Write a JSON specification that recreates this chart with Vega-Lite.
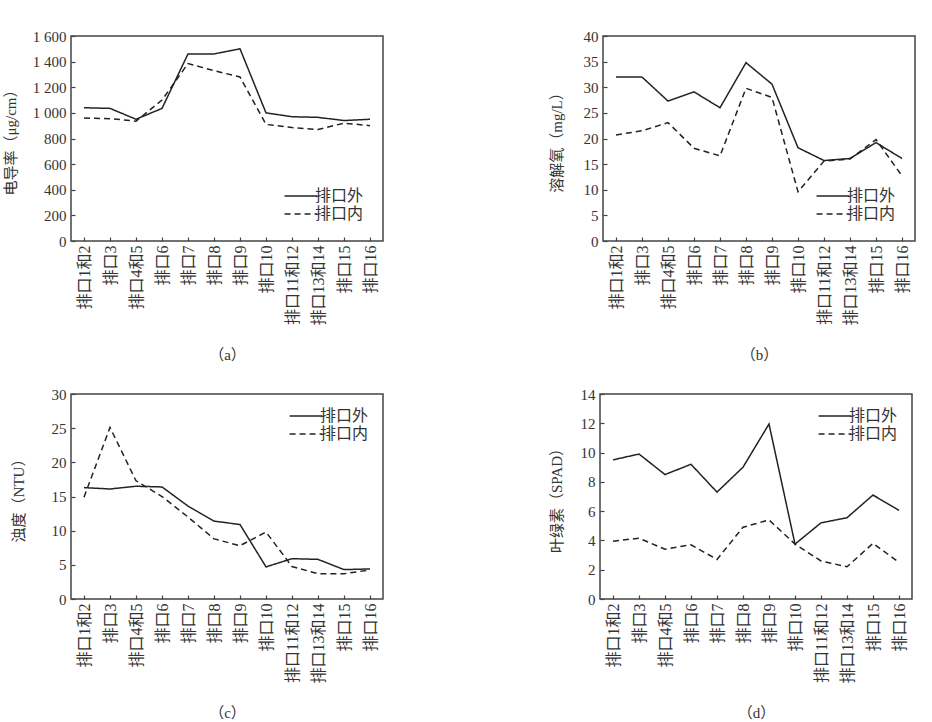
{
  "$schema": "https://vega.github.io/schema/vega-lite/v6.json",
  "padding": {"left": 2, "top": 28, "right": 0, "bottom": 0},
  "background": "white",
  "config": {
    "font": "Liberation Serif, Noto Sans CJK SC",
    "view": {"stroke": "#444", "strokeWidth": 1.5},
    "axis": {
      "grid": false, "domain": false, "tickSize": 4, "offset": -4, "tickColor": "#444", "tickWidth": 1.2,
      "labelFont": "Liberation Serif, Noto Sans CJK SC", "labelFontSize": 15, "labelColor": "#333",
      "titleFont": "Liberation Serif, Noto Sans CJK SC", "titleFontSize": 15, "titleFontWeight": "normal", "titleColor": "#333",
      "labelPadding": 5
    },
    "axisX": {"labelAngle": -90, "labelFontSize": 16, "labelPadding": 4, "titlePadding": 22, "titleFontSize": 15},
    "legend": {
      "title": null, "labelFontSize": 16, "labelColor": "#333", "labelFont": "Liberation Serif, Noto Sans CJK SC",
      "symbolType": "M-3,0H3", "symbolSize": 120, "symbolStrokeWidth": 1.5, "symbolStrokeColor": "#222",
      "symbolFillColor": "transparent", "labelOffset": 6, "rowPadding": 2, "offset": 19, "padding": 0
    }
  },
  "datasets": {
    "a": [
      {"site": "排口1和2", "s": "排口外", "v": 1040}, {"site": "排口3", "s": "排口外", "v": 1035},
      {"site": "排口4和5", "s": "排口外", "v": 950}, {"site": "排口6", "s": "排口外", "v": 1035},
      {"site": "排口7", "s": "排口外", "v": 1460}, {"site": "排口8", "s": "排口外", "v": 1460},
      {"site": "排口9", "s": "排口外", "v": 1500}, {"site": "排口10", "s": "排口外", "v": 1000},
      {"site": "排口11和12", "s": "排口外", "v": 970}, {"site": "排口13和14", "s": "排口外", "v": 965},
      {"site": "排口15", "s": "排口外", "v": 940}, {"site": "排口16", "s": "排口外", "v": 950},
      {"site": "排口1和2", "s": "排口内", "v": 960}, {"site": "排口3", "s": "排口内", "v": 955},
      {"site": "排口4和5", "s": "排口内", "v": 935}, {"site": "排口6", "s": "排口内", "v": 1100},
      {"site": "排口7", "s": "排口内", "v": 1385}, {"site": "排口8", "s": "排口内", "v": 1330},
      {"site": "排口9", "s": "排口内", "v": 1280}, {"site": "排口10", "s": "排口内", "v": 910},
      {"site": "排口11和12", "s": "排口内", "v": 885}, {"site": "排口13和14", "s": "排口内", "v": 870},
      {"site": "排口15", "s": "排口内", "v": 920}, {"site": "排口16", "s": "排口内", "v": 900}
    ],
    "b": [
      {"site": "排口1和2", "s": "排口外", "v": 32.0}, {"site": "排口3", "s": "排口外", "v": 32.0},
      {"site": "排口4和5", "s": "排口外", "v": 27.3}, {"site": "排口6", "s": "排口外", "v": 29.1},
      {"site": "排口7", "s": "排口外", "v": 26.0}, {"site": "排口8", "s": "排口外", "v": 34.8},
      {"site": "排口9", "s": "排口外", "v": 30.6}, {"site": "排口10", "s": "排口外", "v": 18.2},
      {"site": "排口11和12", "s": "排口外", "v": 15.7}, {"site": "排口13和14", "s": "排口外", "v": 16.1},
      {"site": "排口15", "s": "排口外", "v": 19.2}, {"site": "排口16", "s": "排口外", "v": 16.1},
      {"site": "排口1和2", "s": "排口内", "v": 20.7}, {"site": "排口3", "s": "排口内", "v": 21.5},
      {"site": "排口4和5", "s": "排口内", "v": 23.1}, {"site": "排口6", "s": "排口内", "v": 18.1},
      {"site": "排口7", "s": "排口内", "v": 16.6}, {"site": "排口8", "s": "排口内", "v": 29.8},
      {"site": "排口9", "s": "排口内", "v": 28.0}, {"site": "排口10", "s": "排口内", "v": 9.6},
      {"site": "排口11和12", "s": "排口内", "v": 15.6}, {"site": "排口13和14", "s": "排口内", "v": 16.0},
      {"site": "排口15", "s": "排口内", "v": 19.8}, {"site": "排口16", "s": "排口内", "v": 12.7}
    ],
    "c": [
      {"site": "排口1和2", "s": "排口外", "v": 16.3}, {"site": "排口3", "s": "排口外", "v": 16.1},
      {"site": "排口4和5", "s": "排口外", "v": 16.5}, {"site": "排口6", "s": "排口外", "v": 16.4},
      {"site": "排口7", "s": "排口外", "v": 13.6}, {"site": "排口8", "s": "排口外", "v": 11.4},
      {"site": "排口9", "s": "排口外", "v": 10.9}, {"site": "排口10", "s": "排口外", "v": 4.7},
      {"site": "排口11和12", "s": "排口外", "v": 5.9}, {"site": "排口13和14", "s": "排口外", "v": 5.8},
      {"site": "排口15", "s": "排口外", "v": 4.3}, {"site": "排口16", "s": "排口外", "v": 4.4},
      {"site": "排口1和2", "s": "排口内", "v": 14.9}, {"site": "排口3", "s": "排口内", "v": 25.1},
      {"site": "排口4和5", "s": "排口内", "v": 17.3}, {"site": "排口6", "s": "排口内", "v": 15.0},
      {"site": "排口7", "s": "排口内", "v": 12.0}, {"site": "排口8", "s": "排口内", "v": 8.8},
      {"site": "排口9", "s": "排口内", "v": 7.8}, {"site": "排口10", "s": "排口内", "v": 9.8},
      {"site": "排口11和12", "s": "排口内", "v": 4.75}, {"site": "排口13和14", "s": "排口内", "v": 3.7},
      {"site": "排口15", "s": "排口内", "v": 3.7}, {"site": "排口16", "s": "排口内", "v": 4.25}
    ],
    "d": [
      {"site": "排口1和2", "s": "排口外", "v": 9.5}, {"site": "排口3", "s": "排口外", "v": 9.9},
      {"site": "排口4和5", "s": "排口外", "v": 8.5}, {"site": "排口6", "s": "排口外", "v": 9.2},
      {"site": "排口7", "s": "排口外", "v": 7.3}, {"site": "排口8", "s": "排口外", "v": 9.0},
      {"site": "排口9", "s": "排口外", "v": 11.95}, {"site": "排口10", "s": "排口外", "v": 3.75},
      {"site": "排口11和12", "s": "排口外", "v": 5.2}, {"site": "排口13和14", "s": "排口外", "v": 5.55},
      {"site": "排口15", "s": "排口外", "v": 7.1}, {"site": "排口16", "s": "排口外", "v": 6.05},
      {"site": "排口1和2", "s": "排口内", "v": 3.95}, {"site": "排口3", "s": "排口内", "v": 4.15},
      {"site": "排口4和5", "s": "排口内", "v": 3.4}, {"site": "排口6", "s": "排口内", "v": 3.7},
      {"site": "排口7", "s": "排口内", "v": 2.7}, {"site": "排口8", "s": "排口内", "v": 4.9},
      {"site": "排口9", "s": "排口内", "v": 5.4}, {"site": "排口10", "s": "排口内", "v": 3.75},
      {"site": "排口11和12", "s": "排口内", "v": 2.6}, {"site": "排口13和14", "s": "排口内", "v": 2.2},
      {"site": "排口15", "s": "排口内", "v": 3.8}, {"site": "排口16", "s": "排口内", "v": 2.5}
    ]
  },
  "concat": [
    {
      "width": 312, "height": 205,
      "data": {"name": "a"},
      "mark": {"type": "line", "color": "#222", "strokeWidth": 1.5},
      "encoding": {
        "x": {"field": "site", "type": "ordinal", "sort": null, "scale": {"type": "point", "padding": 0.5}, "axis": {"title": "（a）"}},
        "y": {"field": "v", "type": "quantitative", "scale": {"domain": [0, 1600]}, "axis": {"title": "电导率（μg/cm）", "values": [0,200,400,600,800,1000,1200,1400,1600], "labelExpr": "replace(format(datum.value, ','), ',', ' ')", "titlePadding": 14}},
        "strokeDash": {"field": "s", "type": "nominal", "scale": {"domain": ["排口外", "排口内"], "range": [[1, 0], [6, 4]]}, "legend": {"orient": "bottom-right"}}
      }
    },
    {
      "width": 312, "height": 205,
      "data": {"name": "b"},
      "mark": {"type": "line", "color": "#222", "strokeWidth": 1.5},
      "encoding": {
        "x": {"field": "site", "type": "ordinal", "sort": null, "scale": {"type": "point", "padding": 0.5}, "axis": {"title": "（b）"}},
        "y": {"field": "v", "type": "quantitative", "scale": {"domain": [0, 40]}, "axis": {"title": "溶解氧（mg/L）", "values": [0,5,10,15,20,25,30,35,40], "titlePadding": 19}},
        "strokeDash": {"field": "s", "type": "nominal", "scale": {"domain": ["排口外", "排口内"], "range": [[1, 0], [6, 4]]}, "legend": {"orient": "bottom-right"}}
      }
    },
    {
      "width": 312, "height": 205,
      "data": {"name": "c"},
      "mark": {"type": "line", "color": "#222", "strokeWidth": 1.5},
      "encoding": {
        "x": {"field": "site", "type": "ordinal", "sort": null, "scale": {"type": "point", "padding": 0.5}, "axis": {"title": "（c）"}},
        "y": {"field": "v", "type": "quantitative", "scale": {"domain": [0, 30]}, "axis": {"title": "浊度（NTU）", "values": [0,5,10,15,20,25,30], "titlePadding": 25}},
        "strokeDash": {"field": "s", "type": "nominal", "scale": {"domain": ["排口外", "排口内"], "range": [[1, 0], [6, 4]]}, "legend": {"orient": "top-right", "offset": 14}}
      }
    },
    {
      "width": 312, "height": 205,
      "data": {"name": "d"},
      "mark": {"type": "line", "color": "#222", "strokeWidth": 1.5},
      "encoding": {
        "x": {"field": "site", "type": "ordinal", "sort": null, "scale": {"type": "point", "padding": 0.5}, "axis": {"title": "（d）"}},
        "y": {"field": "v", "type": "quantitative", "scale": {"domain": [0, 14]}, "axis": {"title": "叶绿素（SPAD）", "values": [0,2,4,6,8,10,12,14], "titlePadding": 16}},
        "strokeDash": {"field": "s", "type": "nominal", "scale": {"domain": ["排口外", "排口内"], "range": [[1, 0], [6, 4]]}, "legend": {"orient": "top-right", "offset": 14}}
      }
    }
  ],
  "columns": 2,
  "align": {"row": "all", "column": "none"},
  "spacing": {"row": 23, "column": 164},
  "resolve": {"scale": {"x": "independent", "y": "independent", "strokeDash": "independent"}, "legend": {"strokeDash": "independent"}}
}
